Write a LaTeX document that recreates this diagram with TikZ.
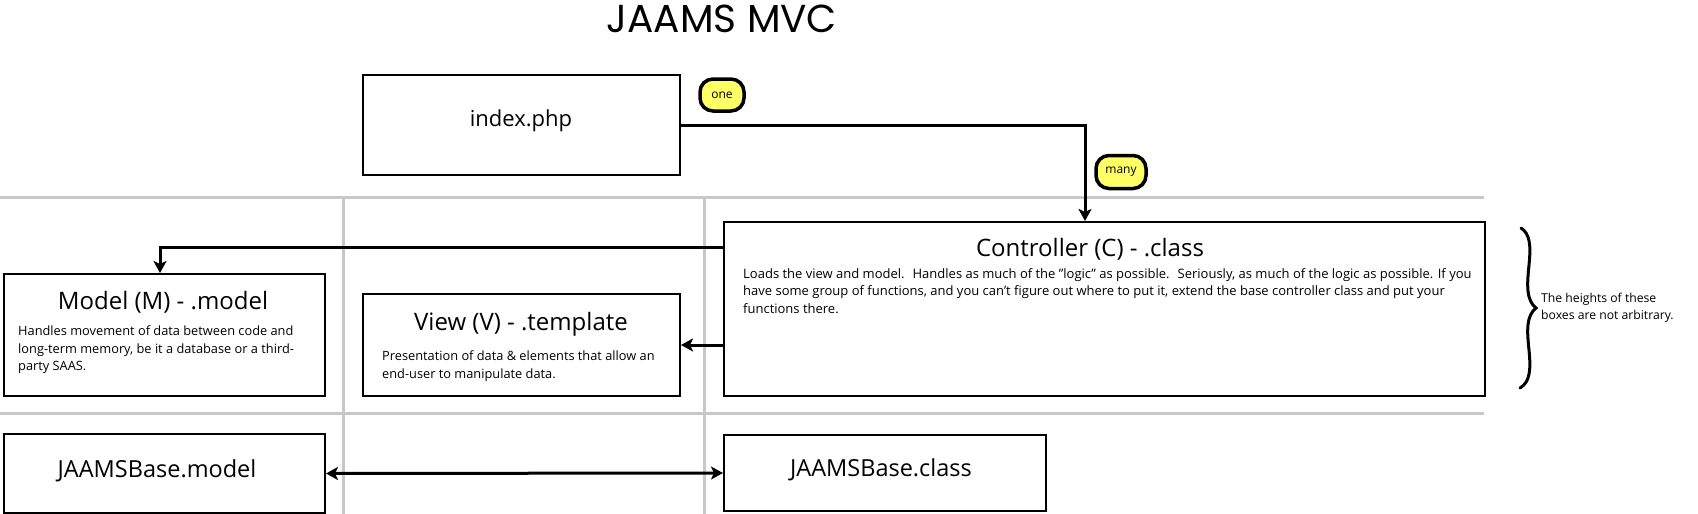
\documentclass[tikz,border=0pt]{standalone}
\usepackage{fontspec}
\setmainfont{Open Sans}
\newfontfamily\titlefont{Poppins}
\usetikzlibrary{arrows.meta}
\definecolor{sep}{HTML}{C8C8C8}
\definecolor{blob}{HTML}{FFFF66}
\begin{document}
\begin{tikzpicture}[x=1pt,y=-1pt,
  box/.style={draw=black, line width=2pt, fill=white, anchor=north west, inner sep=0pt},
  sepline/.style={draw=sep, line width=3pt},
  conn/.style={line width=3pt, -{Stealth[length=12pt,width=13pt,inset=3pt]}},
  dconn/.style={line width=3pt, {Stealth[length=12pt,width=13pt,inset=3pt]}-{Stealth[length=12pt,width=13pt,inset=3pt]}},
  boxtitle/.style={font=\fontsize{24}{28}\selectfont, inner sep=0pt},
  bigtext/.style={font=\fontsize{23.5}{27}\selectfont, inner sep=0pt},
  bodytext/.style={font=\fontsize{12.8}{17.5}\selectfont, align=left, anchor=north west, inner sep=0pt},
  label/.style={draw=black, line width=3.5pt, fill=blob, rounded corners=13pt, font=\fontsize{12}{14}\selectfont, inner sep=0pt}
]
\useasboundingbox (0,0) rectangle (1698,514);

% separators
\draw[sepline] (0,197) -- (1484,197);
\draw[sepline] (0,413) -- (1484,413);
\draw[sepline] (343,197) -- (343,514);
\draw[sepline] (704,197) -- (704,514);

% title
\node[font=\titlefont\fontsize{39}{44}\selectfont, inner sep=0pt] (title) at (722,19) {JAAMS MVC};

% boxes
\node[box, minimum width=317pt, minimum height=100pt] (index) at (362,74) {};
\node[font=\fontsize{22}{26}\selectfont, inner sep=0pt] (indext) at (521,121) {index.php};

\node[box, minimum width=321pt, minimum height=122pt] (model) at (3,273) {};
\node[boxtitle] (modelt) at (163,302) {Model (M) - .model};
\node[bodytext] (modelb) at (18,326) {Handles movement of data between code and\\long-term memory, be it a database or a third-\\party SAAS.};

\node[box, minimum width=317pt, minimum height=102pt] (view) at (362,293) {};
\node[boxtitle] (viewt) at (521,324) {View (V) - .template};
\node[bodytext] (viewb) at (382,351) {Presentation of data \& elements that allow an\\end-user to manipulate data.};

\node[box, minimum width=761pt, minimum height=174pt] (ctrl) at (723,221) {};
\node[boxtitle] (ctrlt) at (1090,249) {Controller (C) - .class};
\node[bodytext, font=\fontsize{13}{17.5}\selectfont] (ctrlb) at (743,268) {Loads the view and model.\hspace{8pt}Handles as much of the \symbol{34}logic\symbol{34} as possible.\hspace{8pt}Seriously, as much of the logic as possible. If you\\have some group of functions, and you can't figure out where to put it, extend the base controller class and put your\\functions there.};

\node[box, minimum width=321pt, minimum height=79pt] (bmodel) at (3,433) {};
\node[bigtext] (bmodelt) at (157,471) {JAAMSBase.model};

\node[box, minimum width=322pt, minimum height=76pt] (bclass) at (723,434) {};
\node[bigtext] (bclasst) at (881,470) {JAAMSBase.class};

% connectors
\coordinate (ctop) at (1085,221);
\draw[conn] (index.east) -| (ctop);
\coordinate (cleft) at (723,247);
\coordinate (mtop) at (160,273);
\draw[conn] (cleft) -| (mtop);
\draw[conn] (view.east -| ctrl.west) -- (view.east);
\draw[dconn] (bmodel.east) -- (bclass.west);

% labels
\node[label, minimum width=44pt, minimum height=32pt] (one) at (722,95) {one};
\node[label, minimum width=50pt, minimum height=33pt] (many) at (1121,172) {many};

% brace
\draw[line width=3pt, line cap=round] (1521,228) .. controls (1530,234) and (1531,245) .. (1529,265) .. controls (1527,285) and (1526,300) .. (1536,308) .. controls (1526,316) and (1527,331) .. (1529,350) .. controls (1531,370) and (1530,382) .. (1520,388);
\node[font=\fontsize{12.2}{17.5}\selectfont, align=left, anchor=west, inner sep=0pt] (note) at (1541,308) {The heights of these\\boxes are not arbitrary.};
\end{tikzpicture}
\end{document}
